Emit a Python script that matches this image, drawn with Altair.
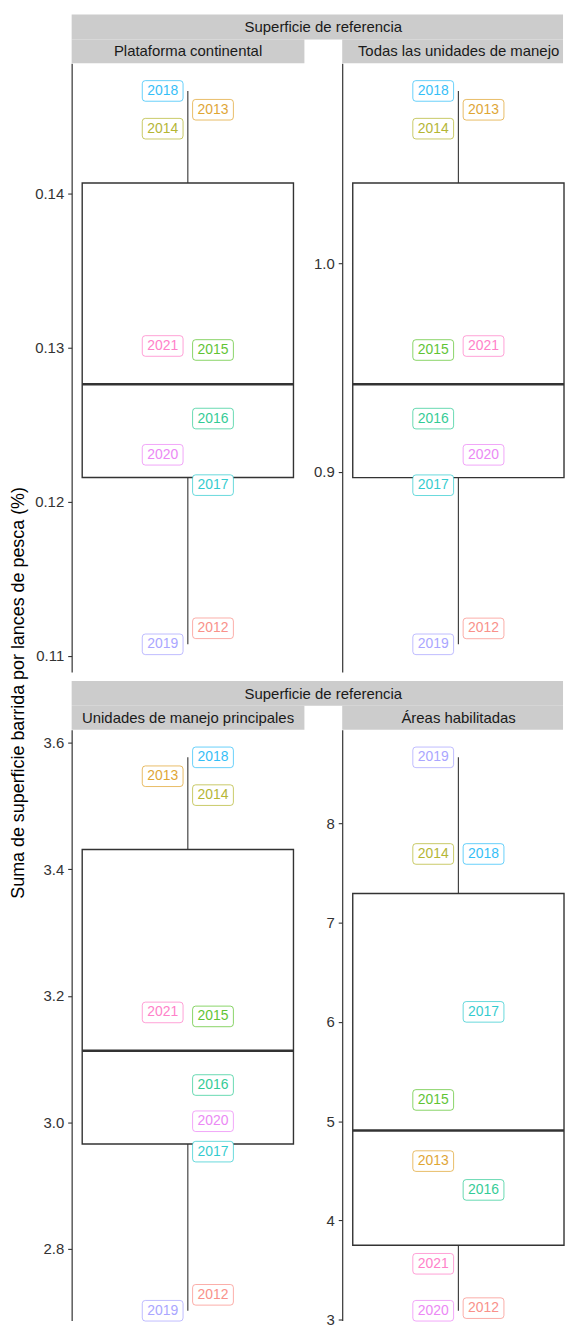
import altair as alt
import pandas as pd

# ---------------- data ----------------
anios = [2012, 2013, 2014, 2015, 2016, 2017, 2018, 2019, 2020, 2021]
colores = ["#F8766D", "#D89000", "#A3A500", "#39B600", "#00BF7D",
           "#00BFC4", "#00B0F6", "#9590FF", "#E76BF3", "#FF62BC"]

grupo = "Superficie de referencia"
paneles = ["Plataforma continental", "Todas las unidades de manejo",
           "Unidades de manejo principales", "Áreas habilitadas"]

valores_plataforma = [0.11179, 0.14544, 0.14421, 0.12985, 0.12540,
                      0.12108, 0.14666, 0.11075, 0.12305, 0.13011]
valores_todas = [0.8251, 1.07348, 1.06443, 0.95843, 0.92557,
                 0.89367, 1.0825, 0.81748, 0.90824, 0.96033]
valores_principales = [2.7267, 3.5474, 3.5175, 3.1673, 3.0587,
                       2.9533, 3.5773, 2.7015, 3.0014, 3.1736]
valores_areas = [3.116, 4.597, 7.69, 5.213, 4.307,
                 6.10, 7.69, 8.663, 3.09, 3.563]

# label side relative to the whisker (-1 left, +1 right)
lado_plataforma = [1, 1, -1, 1, 1, 1, -1, -1, -1, -1]
lado_todas = [1, 1, -1, -1, -1, -1, -1, -1, 1, 1]
lado_principales = [1, -1, 1, 1, 1, 1, 1, -1, 1, -1]
lado_areas = [1, -1, -1, -1, 1, 1, 1, -1, -1, -1]

ticks_plataforma = [0.11, 0.12, 0.13, 0.14]
ticks_todas = [0.9, 1.0]
ticks_principales = [2.8, 3.0, 3.2, 3.4, 3.6]
ticks_areas = [3, 4, 5, 6, 7, 8]

titulo_y = "Suma de superficie barrida por lances de pesca (%)"

# ---------------- style / layout ----------------
FONT = "Liberation Sans"
GRIS = "#333333"
STRIP = "#CCCCCC"
ALTO_REF = 612
BX0, BX1 = 10.6, 223.0
CX = (BX0 + BX1) / 2
FULLW = 234
LABEL_PATH = ("M-0.85,-0.505 L0.85,-0.505 Q1,-0.505 1,-0.355 L1,0.355 "
              "Q1,0.505 0.85,0.505 L-0.85,0.505 Q-1,0.505 -1,0.355 "
              "L-1,-0.355 Q-1,-0.505 -0.85,-0.505 Z")

color_scale = alt.Scale(domain=[str(a) for a in anios], range=colores)


def panel(valores, lados, ticks, fmt, titulo, ancho, alto,
          cabecera=False, ancho_cab=0, titulo_eje=False):
    df = pd.DataFrame({"anio": [str(a) for a in anios],
                       "valor": valores, "lado": lados})
    lo, hi = min(valores), max(valores)
    r = hi - lo
    dom_hi = hi + 0.05 * r
    dom_lo = lo - 0.05 * r
    dom_lo = dom_hi - (dom_hi - dom_lo) * alto / ALTO_REF
    ysc = alt.Scale(domain=[dom_lo, dom_hi], nice=False, zero=False)
    yax = alt.Axis(values=ticks, format=fmt, title=None)

    base = alt.Chart(df)
    stats = base.transform_aggregate(
        q1="q1(valor)", q3="q3(valor)", med="median(valor)",
        mn="min(valor)", mx="max(valor)")

    bigote = stats.mark_rule(color=GRIS, strokeWidth=1.1).encode(
        x=alt.value(CX),
        y=alt.Y("mn:Q", scale=ysc, axis=yax),
        y2="mx:Q")
    caja = stats.mark_rect(fill="white", stroke=GRIS, strokeWidth=1.4).encode(
        x=alt.value(BX0), x2=alt.value(BX1),
        y=alt.Y("q1:Q", scale=ysc, axis=yax),
        y2="q3:Q")
    mediana = stats.mark_rule(color=GRIS, strokeWidth=2.4).encode(
        x=alt.value(BX0), x2=alt.value(BX1),
        y=alt.Y("med:Q", scale=ysc, axis=yax))

    lab = base.transform_calculate(px=f"{CX} + datum.lado * 25.3")
    cajitas = lab.mark_point(shape=LABEL_PATH, size=41 * 41, filled=False,
                             fill="white", fillOpacity=1, strokeWidth=1,
                             strokeOpacity=0.6, opacity=1).encode(
        x=alt.X("px:Q", scale=None, axis=None),
        y=alt.Y("valor:Q", scale=ysc, axis=yax),
        stroke=alt.Color("anio:N", scale=color_scale, legend=None))
    textos = lab.mark_text(font=FONT, fontSize=14, opacity=0.8,
                           baseline="middle", align="center").encode(
        x=alt.X("px:Q", scale=None, axis=None),
        y=alt.Y("valor:Q", scale=ysc, axis=yax),
        text="anio:N",
        color=alt.Color("anio:N", scale=color_scale, legend=None))

    capas = []
    uno = pd.DataFrame({"t": [titulo]})
    capas.append(alt.Chart(uno).mark_rect(fill=STRIP).encode(
        x=alt.value(0), x2=alt.value(ancho),
        y=alt.value(-24), y2=alt.value(0)))
    capas.append(alt.Chart(uno).mark_text(font=FONT, fontSize=15, color="#1A1A1A",
                                          baseline="middle").encode(
        x=alt.value(FULLW / 2), y=alt.value(-12), text="t:N"))
    if cabecera:
        dos = pd.DataFrame({"t": [grupo]})
        capas.append(alt.Chart(dos).mark_rect(fill=STRIP).encode(
            x=alt.value(0), x2=alt.value(ancho_cab),
            y=alt.value(-49), y2=alt.value(-24)))
        capas.append(alt.Chart(dos).mark_text(font=FONT, fontSize=15, color="#1A1A1A",
                                              baseline="middle").encode(
            x=alt.value(253), y=alt.value(-36), text="t:N"))
    if titulo_eje:
        tres = pd.DataFrame({"t": [titulo_y]})
        capas.append(alt.Chart(tres).mark_text(font=FONT, fontSize=18, color="black",
                                               angle=270, baseline="middle").encode(
            x=alt.value(-53), y=alt.value(633), text="t:N"))

    return alt.layer(bigote, caja, mediana, cajitas, textos, *capas).properties(
        width=ancho, height=alto)


W2 = 222
p1 = panel(valores_plataforma, lado_plataforma, ticks_plataforma, ".2f",
           paneles[0], 234, 612, cabecera=True, ancho_cab=234 + 38 + W2,
           titulo_eje=True)
p2 = panel(valores_todas, lado_todas, ticks_todas, ".1f",
           paneles[1], W2, 612)
p3 = panel(valores_principales, lado_principales, ticks_principales, ".1f",
           paneles[2], 234, 594, cabecera=True, ancho_cab=234 + 38 + W2)
p4 = panel(valores_areas, lado_areas, ticks_areas, "d",
           paneles[3], W2, 594)

chart = alt.concat(p1, p2, p3, p4, columns=2,
                   spacing={"row": 58, "column": 38}, bounds="flush").properties(
    padding={"left": 2, "top": 3, "right": 0, "bottom": 0}
).configure_view(stroke=None).configure_axis(
    grid=False, domainColor=GRIS, domainWidth=1.2, tickColor=GRIS,
    tickWidth=1.1, tickSize=4, labelFont=FONT, labelFontSize=15,
    labelColor="#333333", labelPadding=4
)

chart.save("out.html", embed_options={"renderer": "svg", "actions": False})
